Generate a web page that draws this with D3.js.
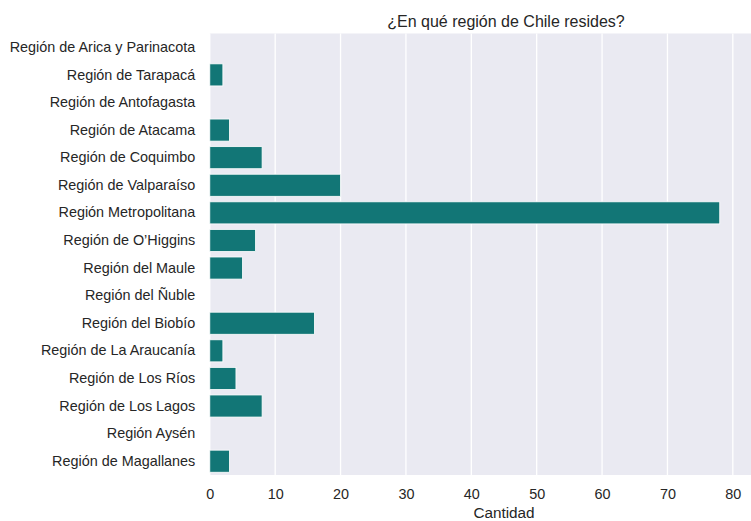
<!DOCTYPE html>
<html>
<head>
<meta charset="utf-8">
<script src="https://cdn.jsdelivr.net/npm/d3@7"></script>
<style>
  html, body { margin: 0; padding: 0; background: #ffffff; overflow: hidden; }
  svg { display: block; }
  text { font-family: "Liberation Sans", Arial, sans-serif; fill: #262626; }
</style>
</head>
<body>
<svg id="chart" width="751" height="521"></svg>
<script>
const categories = [
  "Región de Arica y Parinacota",
  "Región de Tarapacá",
  "Región de Antofagasta",
  "Región de Atacama",
  "Región de Coquimbo",
  "Región de Valparaíso",
  "Región Metropolitana",
  "Región de O’Higgins",
  "Región del Maule",
  "Región del Ñuble",
  "Región del Biobío",
  "Región de La Araucanía",
  "Región de Los Ríos",
  "Región de Los Lagos",
  "Región Aysén",
  "Región de Magallanes"
];
const values = [0, 2, 0, 3, 8, 20, 78, 7, 5, 0, 16, 2, 4, 8, 0, 3];
const xTicks = [0, 10, 20, 30, 40, 50, 60, 70, 80];
const title = "¿En qué región de Chile resides?";
const xLabel = "Cantidad";

// The original figure's axes extend past the right edge of the picture (cropped).
const margin = { top: 33.5, left: 209.8 };
const plotRight = 798.2;
const W = 751, H = 521;
const iw = plotRight - margin.left;
const ih = 475 - margin.top;

const svg = d3.select("#chart");
const g = svg.append("g").attr("transform", `translate(${margin.left},${margin.top})`);

const x = d3.scaleLinear().domain([0, 90]).range([0, iw]);
const y = d3.scaleBand().domain(categories).range([0, ih]).paddingInner(0.2).paddingOuter(0.1);

g.append("rect").attr("width", iw).attr("height", ih).attr("fill", "#EAEAF2");

g.selectAll("line.grid").data(xTicks).enter().append("line")
  .attr("class", "grid")
  .attr("x1", d => x(d)).attr("x2", d => x(d))
  .attr("y1", 0).attr("y2", ih)
  .attr("stroke", "#ffffff").attr("stroke-width", 1.3);

g.selectAll("rect.bar").data(categories.map((c, i) => ({ c, v: values[i] })).filter(d => d.v > 0))
  .enter().append("rect")
  .attr("class", "bar")
  .attr("x", x(0))
  .attr("y", d => y(d.c))
  .attr("width", d => x(d.v) - x(0))
  .attr("height", y.bandwidth())
  .attr("fill", "#127676")
  .attr("stroke", "#ffffff")
  .attr("stroke-width", 0.8);

const xAxis = d3.axisBottom(x).tickValues(xTicks).tickSize(0).tickPadding(14);
const gx = g.append("g").attr("transform", `translate(0,${ih})`).call(xAxis);
gx.select(".domain").remove();
gx.selectAll("text").attr("font-size", 14.4).attr("fill", "#262626")
  .style("font-family", "'Liberation Sans', Arial, sans-serif");

const yAxis = d3.axisLeft(y).tickSize(0).tickPadding(14.5);
const gy = g.append("g").call(yAxis);
gy.select(".domain").remove();
gy.selectAll("text").attr("font-size", 14.4).attr("fill", "#262626")
  .style("font-family", "'Liberation Sans', Arial, sans-serif");

svg.append("text")
  .attr("x", margin.left + iw / 2)
  .attr("y", 517.5)
  .attr("text-anchor", "middle")
  .attr("font-size", 15.3)
  .text(xLabel);

svg.append("text")
  .attr("x", margin.left + iw / 2 + 2)
  .attr("y", 27)
  .attr("text-anchor", "middle")
  .attr("font-size", 16)
  .text(title);
</script>
</body>
</html>
